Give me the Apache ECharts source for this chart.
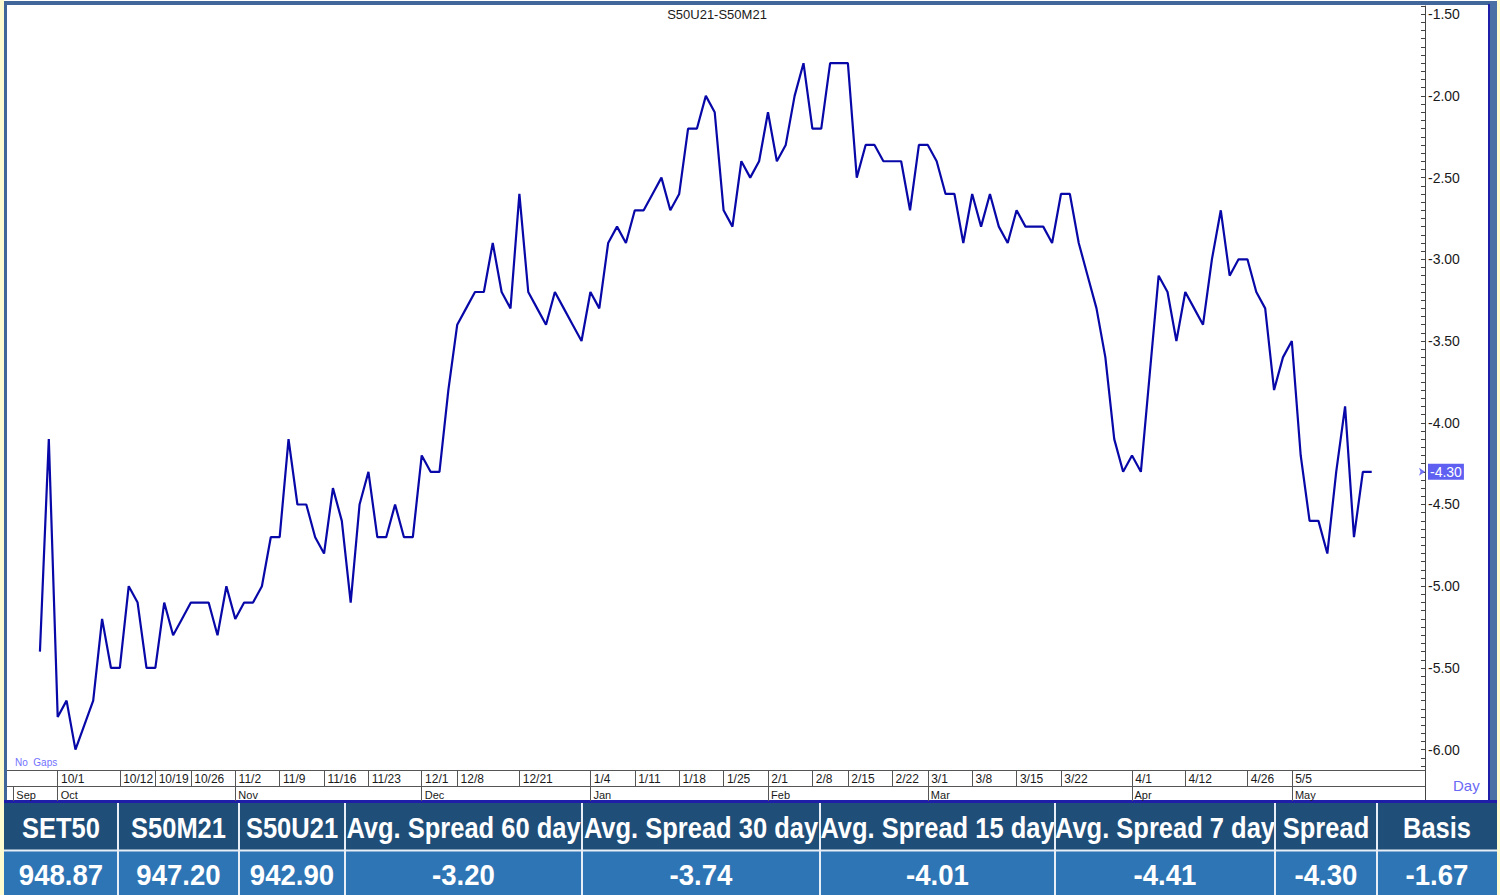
<!DOCTYPE html>
<html>
<head>
<meta charset="utf-8">
<title>S50U21-S50M21</title>
<script src="https://cdn.jsdelivr.net/npm/echarts@6/dist/echarts.min.js"></script>
<style>
  html, body { margin: 0; padding: 0; background: #fdfbcf; }
  #chart { width: 1500px; height: 895px; }
</style>
</head>
<body>
<div id="chart"></div>
<script>
// trading days only (chart is drawn with "No Gaps")
var padBefore = ['9/24', '9/25', '9/28'];
var tradeDays = [
  '9/29', '9/30',
  '10/1', '10/2', '10/5', '10/6', '10/7', '10/8', '10/9', '10/12', '10/14', '10/15', '10/16',
  '10/19', '10/20', '10/21', '10/22', '10/26', '10/27', '10/28', '10/29', '10/30',
  '11/2', '11/3', '11/4', '11/5', '11/6', '11/9', '11/10', '11/11', '11/12', '11/13',
  '11/16', '11/17', '11/18', '11/19', '11/20', '11/23', '11/24', '11/25', '11/26', '11/27', '11/30',
  '12/1', '12/2', '12/3', '12/4', '12/8', '12/9', '12/14', '12/15', '12/16', '12/17', '12/18',
  '12/21', '12/22', '12/23', '12/24', '12/25', '12/28', '12/29', '12/30',
  '1/4', '1/5', '1/6', '1/7', '1/8', '1/11', '1/12', '1/13', '1/14', '1/15',
  '1/18', '1/19', '1/20', '1/21', '1/22', '1/25', '1/26', '1/27', '1/28', '1/29',
  '2/1', '2/2', '2/3', '2/4', '2/5', '2/8', '2/9', '2/10', '2/11',
  '2/15', '2/16', '2/17', '2/18', '2/19', '2/22', '2/23', '2/24', '2/25',
  '3/1', '3/2', '3/3', '3/4', '3/5', '3/8', '3/9', '3/10', '3/11', '3/12',
  '3/15', '3/16', '3/17', '3/18', '3/19', '3/22', '3/23', '3/24', '3/25', '3/26', '3/29', '3/30', '3/31',
  '4/1', '4/2', '4/5', '4/7', '4/8', '4/9', '4/12', '4/16', '4/19', '4/20', '4/21', '4/22', '4/23',
  '4/26', '4/27', '4/28', '4/29', '4/30',
  '5/5', '5/6', '5/7', '5/10', '5/11', '5/12', '5/13', '5/14', '5/17', '5/18'
];
var padAfter = ['5/19', '5/20', '5/21', '5/24', '5/25', '5/27'];

// S50U21 - S50M21 spread
var spread = [
  -5.40, -4.10,
  -5.80, -5.70, -6.00, -5.85, -5.70, -5.20, -5.50, -5.50, -5.00, -5.10, -5.50,
  -5.50, -5.10, -5.30, -5.20, -5.10, -5.10, -5.10, -5.30, -5.00,
  -5.20, -5.10, -5.10, -5.00, -4.70, -4.70, -4.10, -4.50, -4.50, -4.70,
  -4.80, -4.40, -4.60, -5.10, -4.50, -4.30, -4.70, -4.70, -4.50, -4.70, -4.70,
  -4.20, -4.30, -4.30, -3.80, -3.40, -3.30, -3.20, -3.20, -2.90, -3.20, -3.30,
  -2.60, -3.20, -3.30, -3.40, -3.20, -3.30, -3.40, -3.50,
  -3.20, -3.30, -2.90, -2.80, -2.90, -2.70, -2.70, -2.60, -2.50, -2.70,
  -2.60, -2.20, -2.20, -2.00, -2.10, -2.70, -2.80, -2.40, -2.50, -2.40,
  -2.10, -2.40, -2.30, -2.00, -1.80, -2.20, -2.20, -1.80, -1.80,
  -1.80, -2.50, -2.30, -2.30, -2.40, -2.40, -2.40, -2.70, -2.30,
  -2.30, -2.40, -2.60, -2.60, -2.90, -2.60, -2.80, -2.60, -2.80, -2.90,
  -2.70, -2.80, -2.80, -2.80, -2.90, -2.60, -2.60, -2.90, -3.10, -3.30, -3.60, -4.10, -4.30,
  -4.20, -4.30, -3.70, -3.10, -3.20, -3.50, -3.20, -3.30, -3.40, -3.00, -2.70, -3.10, -3.00,
  -3.00, -3.20, -3.30, -3.80, -3.60,
  -3.50, -4.20, -4.60, -4.60, -4.80, -4.30, -3.90, -4.70, -4.30, -4.30
];
var lastSpread = -4.30;

var weekLabels = ['10/1', '10/12', '10/19', '10/26', '11/2', '11/9', '11/16', '11/23', '12/1', '12/8',
  '12/21', '1/4', '1/11', '1/18', '1/25', '2/1', '2/8', '2/15', '2/22', '3/1', '3/8', '3/15',
  '3/22', '4/1', '4/12', '4/26', '5/5'];
var monthStarts = ['9/24', '10/1', '11/2', '12/1', '1/4', '2/1', '3/1', '4/1', '5/5'];
var monthNames = ['Sep', 'Oct', 'Nov', 'Dec', 'Jan', 'Feb', 'Mar', 'Apr', 'May'];

var tableHeaders = ['SET50', 'S50M21', 'S50U21', 'Avg. Spread 60 day', 'Avg. Spread 30 day',
  'Avg. Spread 15 day', 'Avg. Spread 7 day', 'Spread', 'Basis'];
var tableValues = ['948.87', '947.20', '942.90', '-3.20', '-3.74', '-4.01', '-4.41', '-4.30', '-1.67'];

var categories = padBefore.concat(tradeDays, padAfter);
var lineData = padBefore.map(function () { return null; }).concat(spread);

var isWeek = function (i, v) { return weekLabels.indexOf(v) >= 0; };
var isMonth = function (i, v) { return monthStarts.indexOf(v) >= 0; };

// frame + bottom table
var colEdges = [4, 118, 239, 345, 582, 820, 1055, 1275, 1377, 1497];
var frameBlue = '#41679a';
var deepBlue = '#1e1ea8';
var gfx = [
  { type: 'rect', shape: { x: 0, y: 0, width: 4, height: 895 }, style: { fill: '#fdfbcf' } },
  { type: 'rect', shape: { x: 1497, y: 0, width: 3, height: 895 }, style: { fill: '#fdfbcf' } },
  { type: 'rect', shape: { x: 4, y: 1, width: 1493, height: 4 }, style: { fill: frameBlue } },
  { type: 'rect', shape: { x: 4, y: 1, width: 3, height: 802 }, style: { fill: frameBlue } },
  { type: 'rect', shape: { x: 1488, y: 4, width: 2, height: 798 }, style: { fill: deepBlue } },
  { type: 'rect', shape: { x: 1490, y: 1, width: 7, height: 802 }, style: { fill: '#4a70a6' } },
  { type: 'rect', shape: { x: 4, y: 800, width: 1493, height: 3 }, style: { fill: deepBlue } },
  // band lines that run to the frame edge and the right axis through the band
  { type: 'line', shape: { x1: 7, y1: 770.5, x2: 14, y2: 770.5 }, style: { stroke: '#555', lineWidth: 1 } },
  { type: 'line', shape: { x1: 7, y1: 786.5, x2: 14, y2: 786.5 }, style: { stroke: '#555', lineWidth: 1 } },
  { type: 'line', shape: { x1: 1425.5, y1: 766, x2: 1425.5, y2: 800 }, style: { stroke: '#444', lineWidth: 1 } },
  { type: 'text', x: 15, y: 757, style: { text: 'No  Gaps', fill: '#7272ff', fontSize: 10, fontFamily: 'Liberation Sans' } },
  { type: 'text', x: 1453, y: 778, style: { text: 'Day', fill: '#6a6af5', fontSize: 15, fontFamily: 'Liberation Sans' } },
  { type: 'rect', shape: { x: 4, y: 803, width: 1493, height: 47 }, style: { fill: '#1f4e79' } },
  { type: 'rect', shape: { x: 4, y: 850, width: 1493, height: 45 }, style: { fill: '#2e75b6' } },
  { type: 'rect', shape: { x: 4, y: 849.5, width: 1493, height: 2 }, style: { fill: '#e8eef5' } }
];
tableHeaders.forEach(function (h, i) {
  var cx = (colEdges[i] + colEdges[i + 1]) / 2;
  if (i > 0) {
    gfx.push({ type: 'rect', shape: { x: colEdges[i] - 1, y: 803, width: 2, height: 92 }, style: { fill: '#e8eef5' } });
  }
  gfx.push({
    type: 'text', x: cx, y: 828, scaleX: 0.85,
    style: { text: h, x: 0, y: 0, align: 'center', verticalAlign: 'middle', textAlign: 'center', textVerticalAlign: 'middle',
      fill: '#fff', fontSize: 30, fontWeight: 'bold', fontFamily: 'Liberation Sans' }
  });
  gfx.push({
    type: 'text', x: cx, y: 875, scaleX: 0.92,
    style: { text: tableValues[i], x: 0, y: 0, align: 'center', verticalAlign: 'middle', textAlign: 'center', textVerticalAlign: 'middle',
      fill: '#fff', fontSize: 30, fontWeight: 'bold', fontFamily: 'Liberation Sans' }
  });
});

var chart = echarts.init(document.getElementById('chart'), null, { renderer: 'svg' });
chart.setOption({
  animation: false,
  backgroundColor: '#fff',
  title: {
    text: 'S50U21-S50M21',
    left: 712, top: 3, textAlign: 'center',
    textStyle: { fontSize: 13, fontWeight: 'normal', color: '#1a1a1a', fontFamily: 'Liberation Sans' }
  },
  grid: { left: 13.3, right: 75, top: 6, bottom: 129, containLabel: false, outerBoundsMode: 'none' },
  xAxis: [
    {
      type: 'category', data: categories, boundaryGap: false, position: 'bottom', offset: 4,
      axisLine: { lineStyle: { color: '#555', width: 1 } },
      axisTick: { show: true, length: 16, interval: isWeek, lineStyle: { color: '#555' } },
      axisLabel: {
        interval: isWeek, hideOverlap: false,
        align: 'left', margin: 3, color: '#1a1a1a', fontSize: 12, fontFamily: 'Liberation Sans',
        formatter: function (v) { return weekLabels.indexOf(v) >= 0 ? ' ' + v : ''; }
      },
      splitLine: { show: false }
    },
    {
      type: 'category', data: categories, boundaryGap: false, position: 'bottom', offset: 20,
      axisLine: { lineStyle: { color: '#555', width: 1 } },
      axisTick: { show: true, length: 15, interval: isMonth, lineStyle: { color: '#555' } },
      axisLabel: {
        interval: isMonth, hideOverlap: false,
        align: 'left', margin: 3, color: '#1a1a1a', fontSize: 11, fontFamily: 'Liberation Sans',
        formatter: function (v) { var k = monthStarts.indexOf(v); return k >= 0 ? ' ' + monthNames[k] : ''; }
      },
      splitLine: { show: false }
    }
  ],
  yAxis: {
    type: 'value', position: 'right', min: -6.10, max: -1.45, interval: 0.05,
    axisLine: { show: true, lineStyle: { color: '#444', width: 1 } },
    axisTick: { show: true, inside: true, length: 4, lineStyle: { color: '#444' } },
    axisLabel: {
      margin: 3, color: '#1a1a1a', fontSize: 14, fontFamily: 'Liberation Sans',
      formatter: function (v) {
        var c = Math.round(v * 100);
        return c % 50 === 0 ? (c / 100).toFixed(2) : '';
      }
    },
    splitLine: { show: false }
  },
  series: [{
    type: 'line',
    data: lineData,
    showSymbol: false,
    symbol: 'none',
    connectNulls: false,
    lineStyle: { color: '#0808a8', width: 2.2 },
    itemStyle: { color: '#0808a8' },
    markLine: {
      silent: true,
      symbol: ['none', 'arrow'],
      symbolSize: 6,
      lineStyle: { width: 0, color: '#7070f5', type: 'solid' },
      label: {
        show: true, position: 'end', distance: 3,
        formatter: lastSpread.toFixed(2),
        color: '#fff', backgroundColor: '#5f5ff2', padding: [1, 2],
        fontSize: 14, fontFamily: 'Liberation Sans'
      },
      data: [{ yAxis: lastSpread }]
    }
  }],
  graphic: { elements: gfx }
});
</script>
</body>
</html>
